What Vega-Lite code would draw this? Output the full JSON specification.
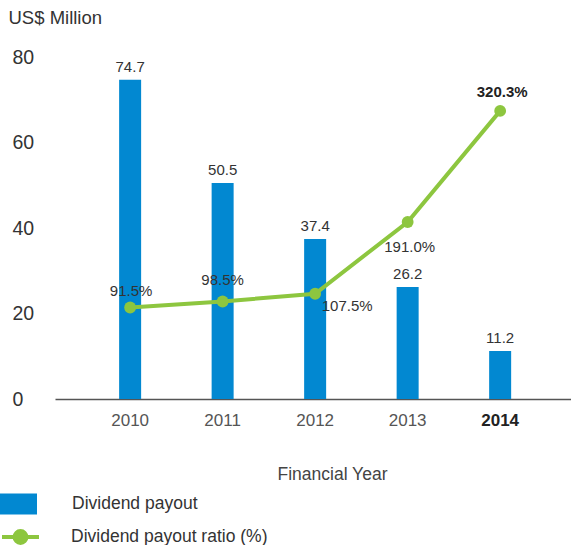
{
  "$schema": "https://vega.github.io/schema/vega-lite/v6.json",
  "autosize": "none",
  "width": 516,
  "height": 342,
  "padding": {"left": 55, "top": 57, "right": 0, "bottom": 146},
  "config": {
    "view": {"stroke": null},
    "font": "Liberation Sans",
    "text": {"font": "Liberation Sans"}
  },
  "data": {
    "values": [
      {"year": "2010", "payout": 74.7, "ratio": 91.5},
      {"year": "2011", "payout": 50.5, "ratio": 98.5},
      {"year": "2012", "payout": 37.4, "ratio": 107.5},
      {"year": "2013", "payout": 26.2, "ratio": 191.0},
      {"year": "2014", "payout": 11.2, "ratio": 320.3}
    ]
  },
  "encoding": {
    "x": {
      "field": "year", "type": "nominal",
      "scale": {"paddingInner": 0, "paddingOuter": 0.289, "align": 0.54},
      "axis": {
        "labelAngle": 0, "ticks": false, "domainColor": "#555555", "domainWidth": 1.5,
        "labelFontSize": 17, "labelPadding": 13,
        "labelColor": {"condition": {"test": "datum.value == '2014'", "value": "#222222"}, "value": "#555555"},
        "labelFontWeight": {"condition": {"test": "datum.value == '2014'", "value": "bold"}, "value": "normal"},
        "title": "Financial Year", "titleFontSize": 17.5, "titleFontWeight": "normal", "titleColor": "#444444",
        "titleX": 277, "titleY": 75, "titleBaseline": "middle", "titleAlign": "center"
      }
    }
  },
  "layer": [
    {
      "encoding": {
        "y": {
          "field": "payout", "type": "quantitative",
          "scale": {"domain": [0, 80], "nice": false},
          "axis": {
            "values": [0, 20, 40, 60, 80], "grid": false, "ticks": false, "domain": false,
            "labelAlign": "left", "labelPadding": 43, "labelFontSize": 19.5, "labelColor": "#333333",
            "title": "US$ Million", "titleAngle": 0, "titleAlign": "left", "titleBaseline": "middle",
            "titleX": -47, "titleY": -40, "titleFontSize": 18.5, "titleFontWeight": "normal", "titleColor": "#333333"
          }
        }
      },
      "layer": [
        {
          "mark": {"type": "bar", "size": 22},
          "encoding": {
            "fill": {
              "datum": "Dividend payout",
              "scale": {"range": ["#0288D1"]},
              "legend": {
                "orient": "none", "legendX": -55, "legendY": 428.5, "title": null,
                "symbolType": "M-1,-0.568H1V0.568H-1Z", "symbolSize": 1369,
                "symbolStrokeWidth": 0, "labelFontSize": 17.5, "labelColor": "#333333", "labelOffset": 35, "labelLimit": 400, "padding": 0
              }
            }
          }
        },
        {
          "mark": {"type": "text", "baseline": "alphabetic", "dy": -8, "fontSize": 15, "color": "#333333"},
          "encoding": {
            "text": {"field": "payout", "type": "quantitative", "format": ".1f"},
            "fontWeight": {"condition": {"test": "datum.year == '2014'", "value": "bold"}, "value": "normal"}
          }
        }
      ]
    },
    {
      "encoding": {
        "y": {
          "field": "ratio", "type": "quantitative",
          "scale": {"domain": [-15, 383], "nice": false, "zero": false},
          "axis": null
        }
      },
      "layer": [
        {
          "mark": {"type": "line", "strokeWidth": 4},
          "encoding": {
            "stroke": {
              "datum": "Dividend payout ratio (%)",
              "scale": {"range": ["#8DC63F"]},
              "legend": {
                "orient": "none", "legendX": -55, "legendY": 459.5, "title": null,
                "symbolType": "M-1,0H1M0.32,0A0.32,0.32 0 1,1 -0.32,0A0.32,0.32 0 1,1 0.32,0Z",
                "symbolSize": 1369, "symbolFillColor": "#8DC63F", "symbolStrokeWidth": 4,
                "labelFontSize": 17.5, "labelColor": "#333333", "labelOffset": 30, "labelLimit": 400, "padding": 0
              }
            }
          }
        },
        {
          "mark": {"type": "point", "filled": true, "size": 140, "color": "#8DC63F", "opacity": 1}
        },
        {
          "transform": [
            {"calculate": "format(datum.ratio, '.1f') + '%'", "as": "label"},
            {"filter": "datum.year == '2010'"}
          ],
          "mark": {"type": "text", "baseline": "middle", "dx": 1, "dy": -16, "fontSize": 15, "color": "#333333"},
          "encoding": {"text": {"field": "label"}}
        },
        {
          "transform": [
            {"calculate": "format(datum.ratio, '.1f') + '%'", "as": "label"},
            {"filter": "datum.year == '2011'"}
          ],
          "mark": {"type": "text", "baseline": "middle", "dx": 0, "dy": -21, "fontSize": 15, "color": "#333333"},
          "encoding": {"text": {"field": "label"}}
        },
        {
          "transform": [
            {"calculate": "format(datum.ratio, '.1f') + '%'", "as": "label"},
            {"filter": "datum.year == '2012'"}
          ],
          "mark": {"type": "text", "baseline": "middle", "dx": 32, "dy": 12, "fontSize": 15, "color": "#333333"},
          "encoding": {"text": {"field": "label"}}
        },
        {
          "transform": [
            {"calculate": "format(datum.ratio, '.1f') + '%'", "as": "label"},
            {"filter": "datum.year == '2013'"}
          ],
          "mark": {"type": "text", "baseline": "middle", "dx": 2, "dy": 25, "fontSize": 15, "color": "#333333"},
          "encoding": {"text": {"field": "label"}}
        },
        {
          "transform": [
            {"calculate": "format(datum.ratio, '.1f') + '%'", "as": "label"},
            {"filter": "datum.year == '2014'"}
          ],
          "mark": {"type": "text", "baseline": "middle", "dx": 2, "dy": -19, "fontSize": 15, "fontWeight": "bold", "color": "#222222"},
          "encoding": {"text": {"field": "label"}}
        }
      ]
    }
  ],
  "resolve": {"scale": {"y": "independent"}}
}
